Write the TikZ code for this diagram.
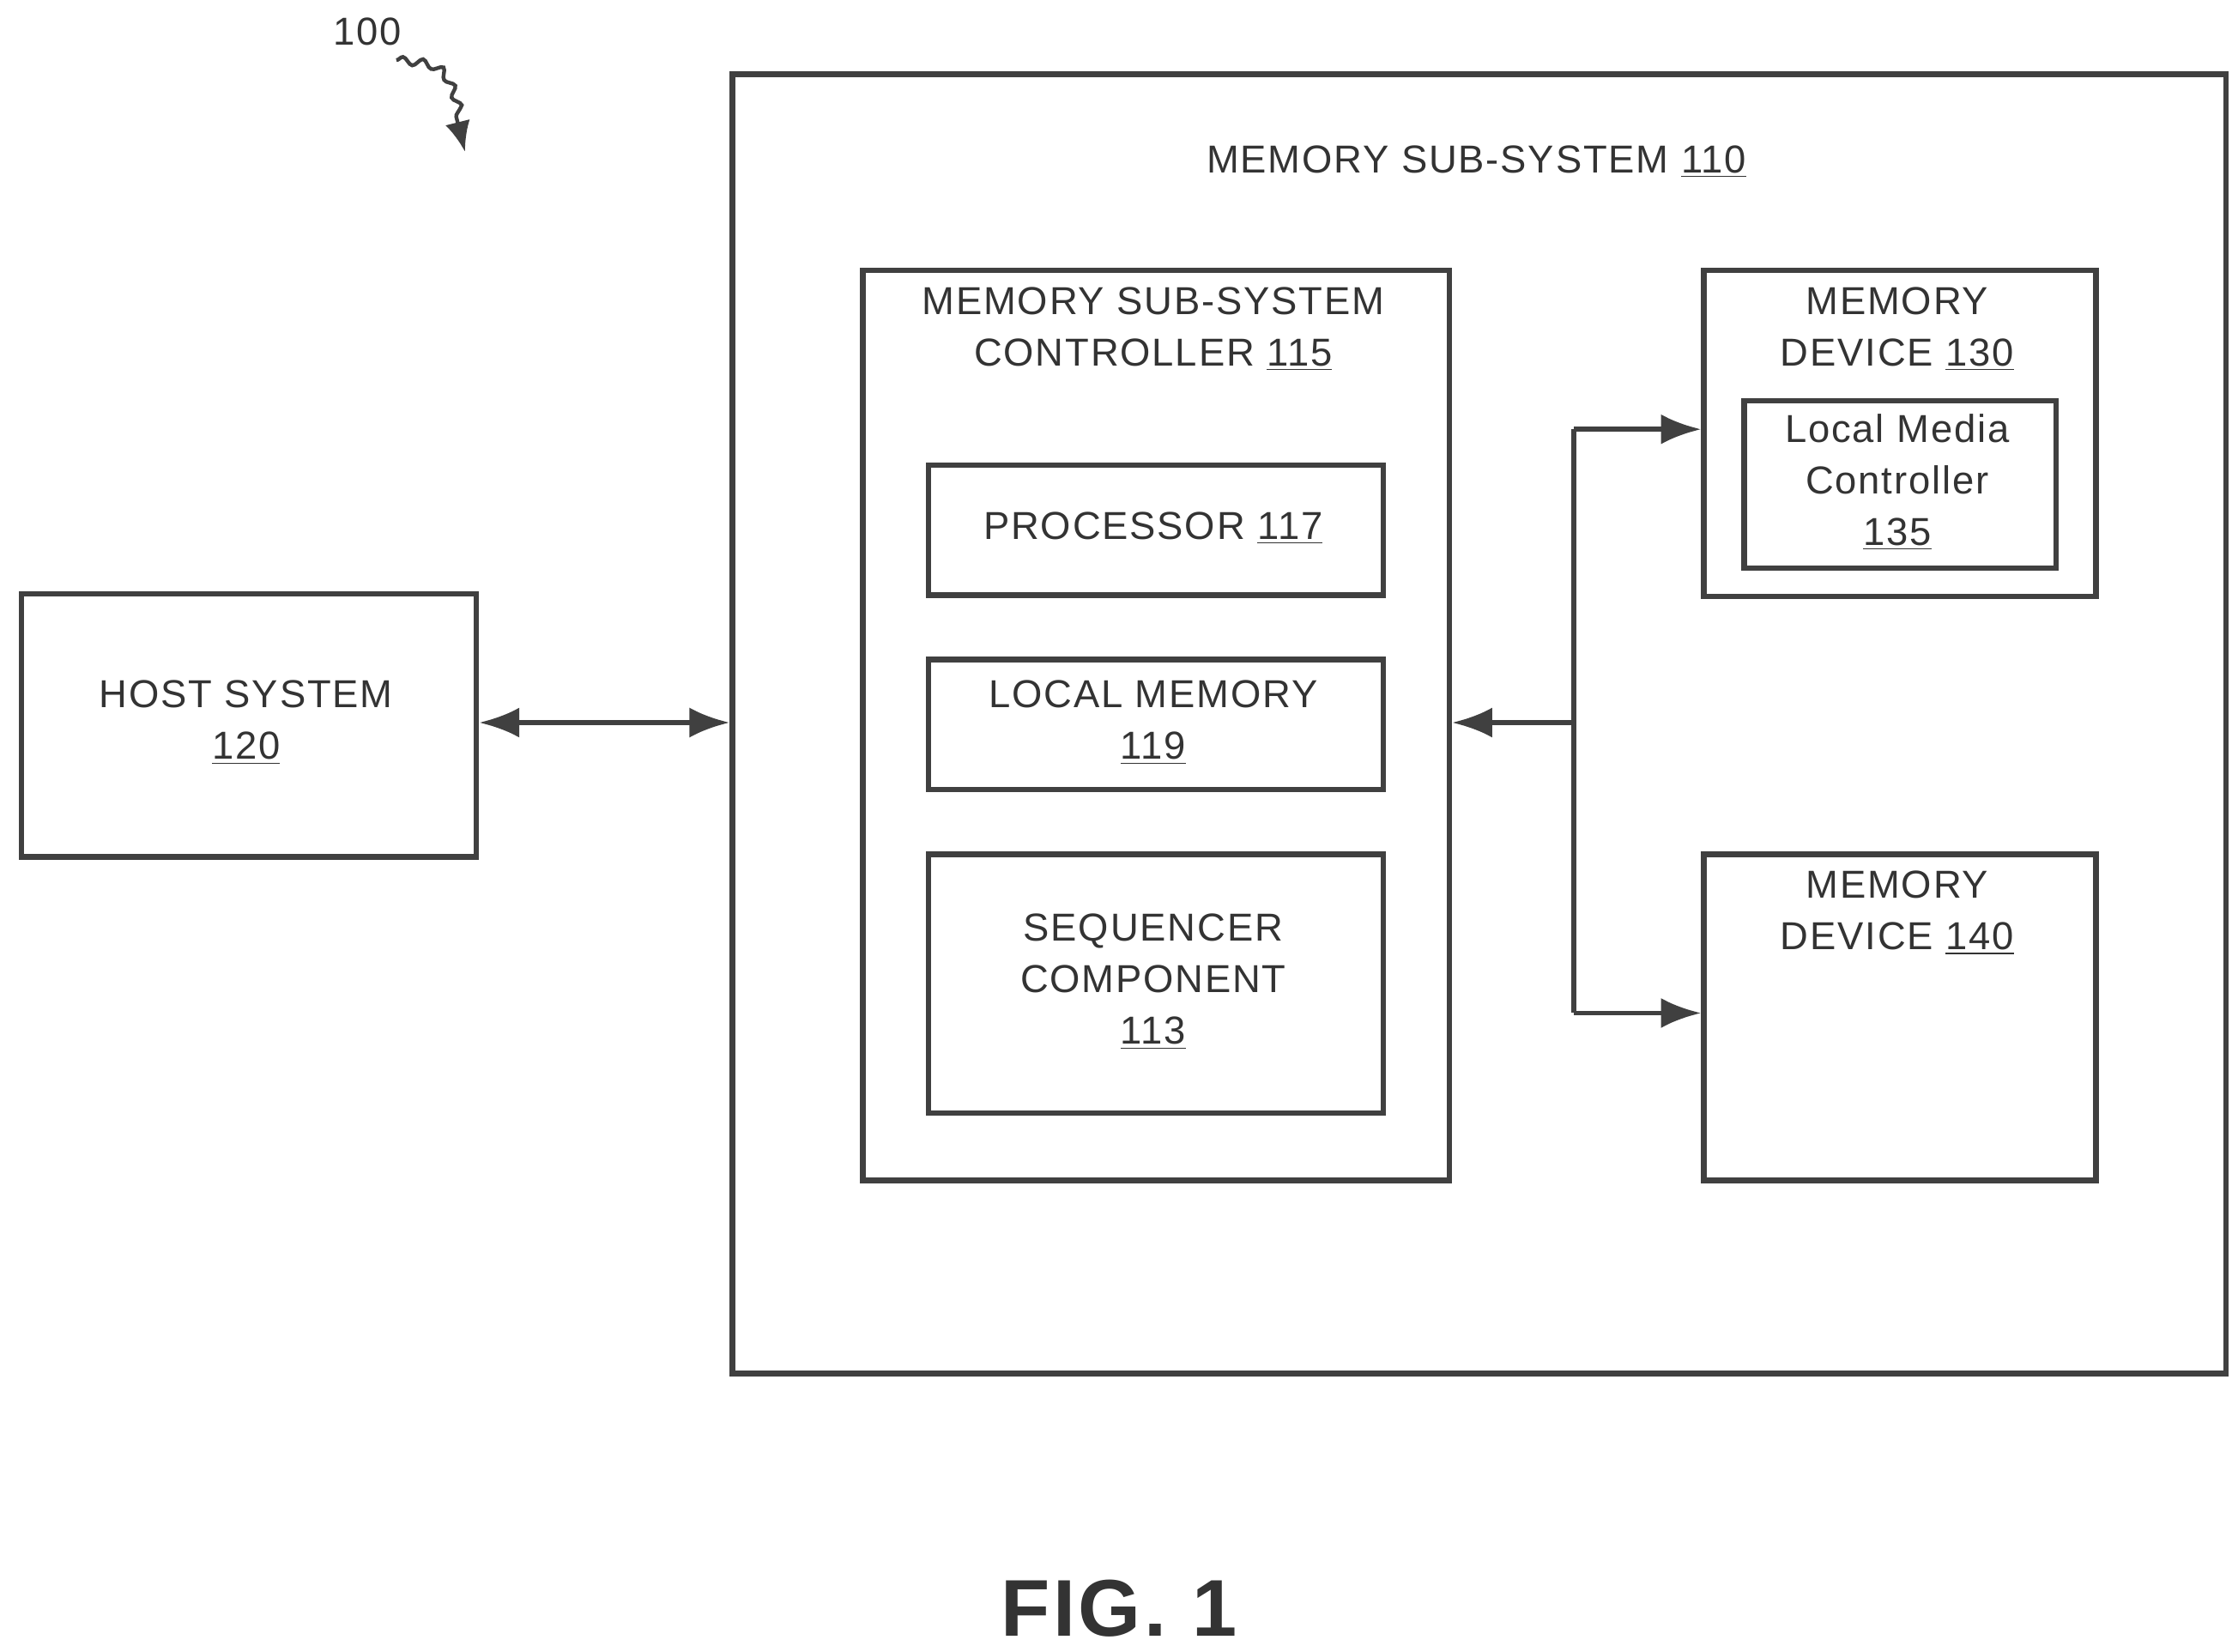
\documentclass[tikz,border=0pt]{standalone}
\usepackage{fontspec}
\setmainfont{Liberation Sans}[LetterSpace=4]
\usetikzlibrary{arrows.meta,decorations.pathmorphing}
\begin{document}
\begin{tikzpicture}[x=0.02cm,y=-0.02cm,
  box/.style={draw=black!75,line width=2.2pt},
  lbl/.style={font=\fontsize{15.5}{20.5}\selectfont,text=black!80,align=center},
  arr/.style={draw=black!75,line width=2pt,{Latex[length=16pt,width=12pt]}-{Latex[length=16pt,width=12pt]}},
  arrs/.style={draw=black!75,line width=2pt,-{Latex[length=16pt,width=12pt]}}]
\useasboundingbox (0,0) rectangle (1560,1154);
\node[box,minimum width=318*0.02cm,minimum height=184*0.02cm,anchor=north west] (host) at (13,413) {};
\node[lbl] (hostt) at (172,505) {HOST SYSTEM\\\underline{120}};
\node[box,minimum width=1044*0.02cm,minimum height=908*0.02cm,anchor=north west] (mss) at (510,50) {};
\node[lbl] (msst) at (1032,113) {MEMORY SUB-SYSTEM \underline{110}};
\node[box,minimum width=410*0.02cm,minimum height=636*0.02cm,anchor=north west] (ctrl) at (601,187) {};
\node[lbl] (ctrlt) at (806,230) {MEMORY SUB-SYSTEM\\CONTROLLER \underline{115}};
\node[box,minimum width=318*0.02cm,minimum height=91*0.02cm,anchor=north west] (proc) at (647,323) {};
\node[lbl] (proct) at (806,369) {PROCESSOR \underline{117}};
\node[box,minimum width=318*0.02cm,minimum height=91*0.02cm,anchor=north west] (lm) at (647,459) {};
\node[lbl] (lmt) at (806,505) {LOCAL MEMORY\\\underline{119}};
\node[box,minimum width=318*0.02cm,minimum height=181*0.02cm,anchor=north west] (seq) at (647,595) {};
\node[lbl] (seqt) at (806,686) {SEQUENCER\\COMPONENT\\\underline{113}};
\node[box,minimum width=274*0.02cm,minimum height=228*0.02cm,anchor=north west] (md1) at (1189,187) {};
\node[lbl] (md1t) at (1326,230) {MEMORY\\DEVICE \underline{130}};
\node[box,minimum width=218*0.02cm,minimum height=117*0.02cm,anchor=north west] (lmc) at (1217,278) {};
\node[lbl] (lmct) at (1326,337) {Local Media\\Controller\\\underline{135}};
\node[box,minimum width=274*0.02cm,minimum height=228*0.02cm,anchor=north west] (md2) at (1189,595) {};
\node[lbl] (md2t) at (1326,638) {MEMORY\\DEVICE \underline{140}};
\coordinate (j) at (1100,505);
\coordinate (j1) at (1100,300);
\coordinate (j2) at (1100,708);
\draw[arr] (host.east |- j) -- (mss.west |- j);
\draw[arrs] (j) -- (ctrl.east |- j);
\draw[draw=black!75,line width=2pt] (j1) -- (j2);
\draw[arrs] (j1) -- (md1.west |- j1);
\draw[arrs] (j2) -- (md2.west |- j2);
\node[lbl] (n100) at (257,22) {100};
\coordinate (s1) at (277,42);
\coordinate (s2) at (325,106);
\draw[draw=black!75,line width=1.5pt,-{Latex[length=12pt,width=10pt]},decorate,decoration={snake,amplitude=1.5pt,segment length=8pt,post length=14pt}] (s1) .. controls (310,45) .. (s2);
\node[font=\fontsize{32}{36}\selectfont\bfseries,text=black!80] (fig) at (782,1124) {FIG. 1};
\end{tikzpicture}
\end{document}
